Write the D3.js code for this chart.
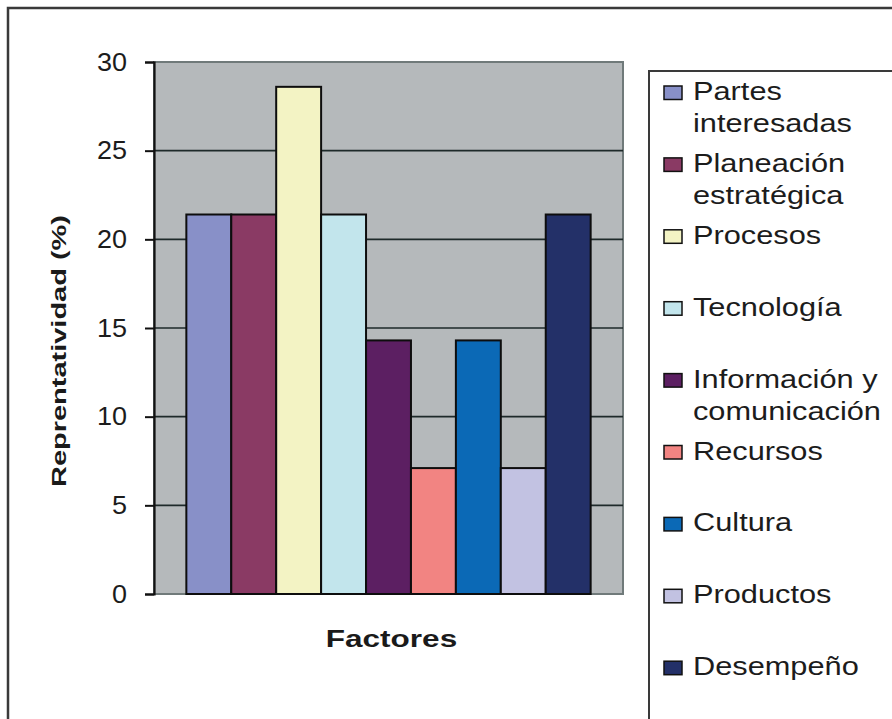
<!DOCTYPE html>
<html>
<head>
<meta charset="utf-8">
<script src="https://cdn.jsdelivr.net/npm/d3@7"></script>
<style>
  html, body { margin: 0; padding: 0; background: #fff; }
  svg { display: block; font-family: "Liberation Sans", Arial, sans-serif; }
</style>
</head>
<body>
<svg id="chart" width="892" height="719"></svg>
<script>
// Factors and their representativeness (%)
const categories = [
  "Partes interesadas",
  "Planeación estratégica",
  "Procesos",
  "Tecnología",
  "Información y comunicación",
  "Recursos",
  "Cultura",
  "Productos",
  "Desempeño"
];
const values = [21.4, 21.4, 28.6, 21.4, 14.3, 7.1, 14.3, 7.1, 21.4];
const colors = [
  "#8890c8", "#8a3a64", "#f3f3c4", "#c2e5ec", "#5c1f62",
  "#f28482", "#0b69b6", "#c2c2e2", "#233068"
];
const yTicks = [0, 5, 10, 15, 20, 25, 30];
const xTitle = "Factores";
const yTitle = "Reprentatividad (%)";

const svg = d3.select("#chart");
const plot = { left: 154, right: 623, top: 62, bottom: 594 };

// Outer frame (runs off the right and bottom edges)
svg.append("rect")
  .attr("x", 8).attr("y", 8).attr("width", 920).attr("height", 760)
  .attr("fill", "none").attr("stroke", "#3a3a3a").attr("stroke-width", 2.5);

const x = d3.scaleBand()
  .domain(categories)
  .range([plot.left, plot.right])
  .paddingInner(0)
  .paddingOuter(0.72);

const y = d3.scaleLinear()
  .domain([0, 30])
  .range([plot.bottom, plot.top]);

// Plot background
svg.append("rect")
  .attr("x", plot.left).attr("y", plot.top)
  .attr("width", plot.right - plot.left).attr("height", plot.bottom - plot.top)
  .attr("fill", "#b5b9bb").attr("stroke", "#707a7a").attr("stroke-width", 2);

// Horizontal gridlines
svg.append("g")
  .selectAll("line")
  .data(yTicks.filter(d => d > 0 && d < 30))
  .join("line")
  .attr("x1", plot.left).attr("x2", plot.right)
  .attr("y1", d => y(d)).attr("y2", d => y(d))
  .attr("stroke", "#1e2a2a").attr("stroke-width", 1.6);

// Bars
svg.append("g")
  .selectAll("rect")
  .data(categories)
  .join("rect")
  .attr("x", d => x(d))
  .attr("y", (d, i) => y(values[i]))
  .attr("width", x.bandwidth())
  .attr("height", (d, i) => y(0) - y(values[i]))
  .attr("fill", (d, i) => colors[i])
  .attr("stroke", "#0d0d0d").attr("stroke-width", 2);

// Y axis
const yAxis = d3.axisLeft(y)
  .tickValues(yTicks)
  .tickSize(9)
  .tickPadding(18)
  .tickFormat(d3.format("d"));

const gy = svg.append("g")
  .attr("transform", `translate(${plot.left},0)`)
  .call(yAxis);
gy.select(".domain").attr("stroke", "#111").attr("stroke-width", 2.2);
gy.selectAll(".tick line").attr("stroke", "#111").attr("stroke-width", 2);
gy.selectAll(".tick text")
  .attr("font-size", 25)
  .attr("fill", "#1c1c1c")
  .attr("font-family", "Liberation Sans, Arial, sans-serif")
  .each(function () {
    const t = d3.select(this);
    const w = this.getComputedTextLength();
    t.attr("textLength", w * 1.08).attr("lengthAdjust", "spacingAndGlyphs");
  });

// Axis titles
svg.append("text")
  .attr("transform", `translate(${(plot.left + plot.right) / 2 + 3},647) scale(1.37,1)`)
  .attr("text-anchor", "middle")
  .attr("font-size", 23).attr("font-weight", "bold").attr("fill", "#1a1a1a")
  .text(xTitle);

svg.append("text")
  .attr("transform", "translate(66,351) rotate(-90) scale(1.38,1)")
  .attr("text-anchor", "middle")
  .attr("font-size", 21).attr("font-weight", "bold").attr("fill", "#1a1a1a")
  .text(yTitle);

// Legend
const legend = svg.append("g");
legend.append("rect")
  .attr("x", 649).attr("y", 71).attr("width", 300).attr("height", 700)
  .attr("fill", "#fff").attr("stroke", "#3a3a3a").attr("stroke-width", 2);

const legendTop = 100, legendStep = 71.9, lineGap = 32, textScale = 1.23, maxWidth = 195;

const items = legend.selectAll("g.item")
  .data(categories)
  .join("g")
  .attr("class", "item")
  .attr("transform", (d, i) => `translate(0,${legendTop + i * legendStep})`);

items.append("rect")
  .attr("x", 664).attr("y", -14)
  .attr("width", 18).attr("height", 13.5)
  .attr("fill", (d, i) => colors[i])
  .attr("stroke", "#111").attr("stroke-width", 1.5);

items.each(function (d) {
  const g = d3.select(this);
  const text = g.append("text")
    .attr("transform", `translate(693,0) scale(${textScale},1)`)
    .attr("font-size", 25).attr("fill", "#1c1c1c");
  // greedy word wrap against the legend width
  const words = d.split(" ");
  let line = [];
  let lineNo = 0;
  let tspan = text.append("tspan").attr("x", 0).attr("y", 0);
  words.forEach(w => {
    line.push(w);
    tspan.text(line.join(" "));
    if (tspan.node().getComputedTextLength() * textScale > maxWidth && line.length > 1) {
      line.pop();
      tspan.text(line.join(" "));
      line = [w];
      lineNo += 1;
      tspan = text.append("tspan").attr("x", 0).attr("y", lineNo * lineGap).text(w);
    }
  });
});
</script>
</body>
</html>
